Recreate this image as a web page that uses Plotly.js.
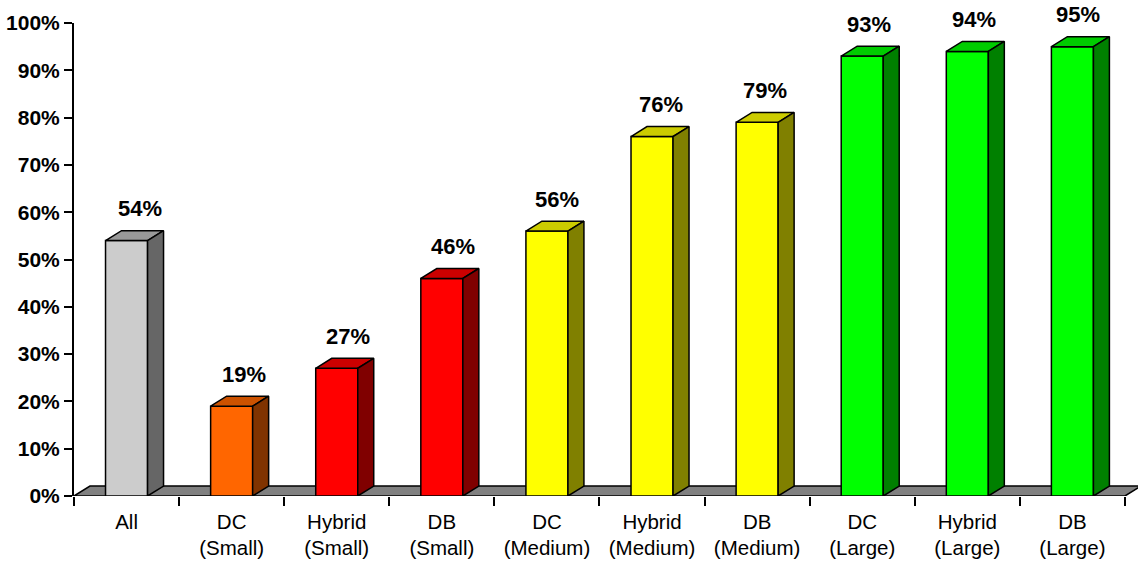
<!DOCTYPE html>
<html>
<head>
<meta charset="utf-8">
<script src="https://cdn.plot.ly/plotly-3.0.1.min.js"></script>
<style>
html,body{margin:0;padding:0;background:#fff;}
#chart{width:1138px;height:566px;}
</style>
</head>
<body>
<div id="chart"></div>
<script>
// ---- data ----
var categories = ["All", "DC<br>(Small)", "Hybrid<br>(Small)", "DB<br>(Small)", "DC<br>(Medium)", "Hybrid<br>(Medium)", "DB<br>(Medium)", "DC<br>(Large)", "Hybrid<br>(Large)", "DB<br>(Large)"];
var values = [0.54, 0.19, 0.27, 0.46, 0.56, 0.76, 0.79, 0.93, 0.94, 0.95];
var valueLabels = ["54%", "19%", "27%", "46%", "56%", "76%", "79%", "93%", "94%", "95%"];
var yTickVals = [0, 0.1, 0.2, 0.3, 0.4, 0.5, 0.6, 0.7, 0.8, 0.9, 1.0];
var yTickText = ["0%", "10%", "20%", "30%", "40%", "50%", "60%", "70%", "80%", "90%", "100%"];

// ---- style ----
var frontColors = ["#CCCCCC", "#FF6600", "#FF0000", "#FF0000", "#FFFF00", "#FFFF00", "#FFFF00", "#00FF00", "#00FF00", "#00FF00"];
var topColors   = ["#999999", "#CC5200", "#CC0000", "#CC0000", "#CCCC00", "#CCCC00", "#CCCC00", "#00CC00", "#00CC00", "#00CC00"];
var sideColors  = ["#666666", "#803300", "#800000", "#800000", "#808000", "#808000", "#808000", "#008000", "#008000", "#008000"];
var BAR_W = 0.40;      // bar width (category units)
var DX = 0.152;        // depth offset, x (category units)
var DY = 0.021;        // depth offset, y (value units)
var XMAX = 9.5 + 0.124;
var FONT = "Liberation Sans, Arial, sans-serif";

var traces = [];
// front faces as a real bar trace
traces.push({
  type: "bar", x: categories, y: values, width: BAR_W,
  xaxis: "x", yaxis: "y",
  marker: {color: frontColors, line: {color: "#000", width: 1.5}},
  hoverinfo: "skip", showlegend: false
});
// top and side faces computed from the values
values.forEach(function(v, i){
  var l = i - BAR_W/2, r = i + BAR_W/2;
  traces.push({
    type: "scatter", xaxis: "x2", yaxis: "y", mode: "lines", fill: "toself",
    x: [l, r, r+DX, l+DX, l], y: [v, v, v+DY, v+DY, v],
    fillcolor: topColors[i], line: {color: "#000", width: 1.5},
    hoverinfo: "skip", showlegend: false
  });
  traces.push({
    type: "scatter", xaxis: "x2", yaxis: "y", mode: "lines", fill: "toself",
    x: [r, r+DX, r+DX, r, r], y: [0, DY, v+DY, v, 0],
    fillcolor: sideColors[i], line: {color: "#000", width: 1.5},
    hoverinfo: "skip", showlegend: false
  });
});

// data labels as annotations anchored on each bar top, shifted in pixels
var annotations = values.map(function(v, i){
  return {
    xref: "x2", yref: "y", x: i, y: v,
    xshift: 13.5 - 0.9*i, yshift: 32,
    text: valueLabels[i], showarrow: false, xanchor: "center", yanchor: "middle",
    font: {family: FONT, size: 22, color: "#000", weight: "bold"}
  };
});

var floorPath = "M -0.5 0 L 9.5 0 L " + (9.5+DX) + " " + DY + " L " + (-0.5+DX) + " " + DY + " Z";

var layout = {
  width: 1138, height: 566,
  margin: {l: 74, r: 0, t: 23, b: 70},
  paper_bgcolor: "#fff", plot_bgcolor: "#fff",
  showlegend: false,
  xaxis: {
    type: "category", range: [-0.5, XMAX],
    tickson: "boundaries", ticks: "outside", ticklen: 9, tickwidth: 2, tickcolor: "#000",
    ticklabelstandoff: 11,
    showline: false, showgrid: false, zeroline: false,
    tickfont: {family: FONT, size: 20.5, color: "#000"}
  },
  xaxis2: {
    type: "linear", overlaying: "x", range: [-0.5, XMAX],
    visible: false, showgrid: false, zeroline: false
  },
  yaxis: {
    range: [0, 1], tickvals: yTickVals, ticktext: yTickText,
    ticks: "outside", ticklen: 8, tickwidth: 2, tickcolor: "#000",
    showline: true, linecolor: "#000", linewidth: 2,
    showgrid: false, zeroline: false,
    tickfont: {family: FONT, size: 21, color: "#000", weight: "bold"}
  },
  shapes: [{
    type: "path", xref: "x2", yref: "y", path: floorPath, layer: "below",
    fillcolor: "#808080", line: {color: "#000", width: 1.5}
  }],
  annotations: annotations,
  bargap: 0
};

Plotly.newPlot("chart", traces, layout, {displayModeBar: false, staticPlot: true});
</script>
</body>
</html>
